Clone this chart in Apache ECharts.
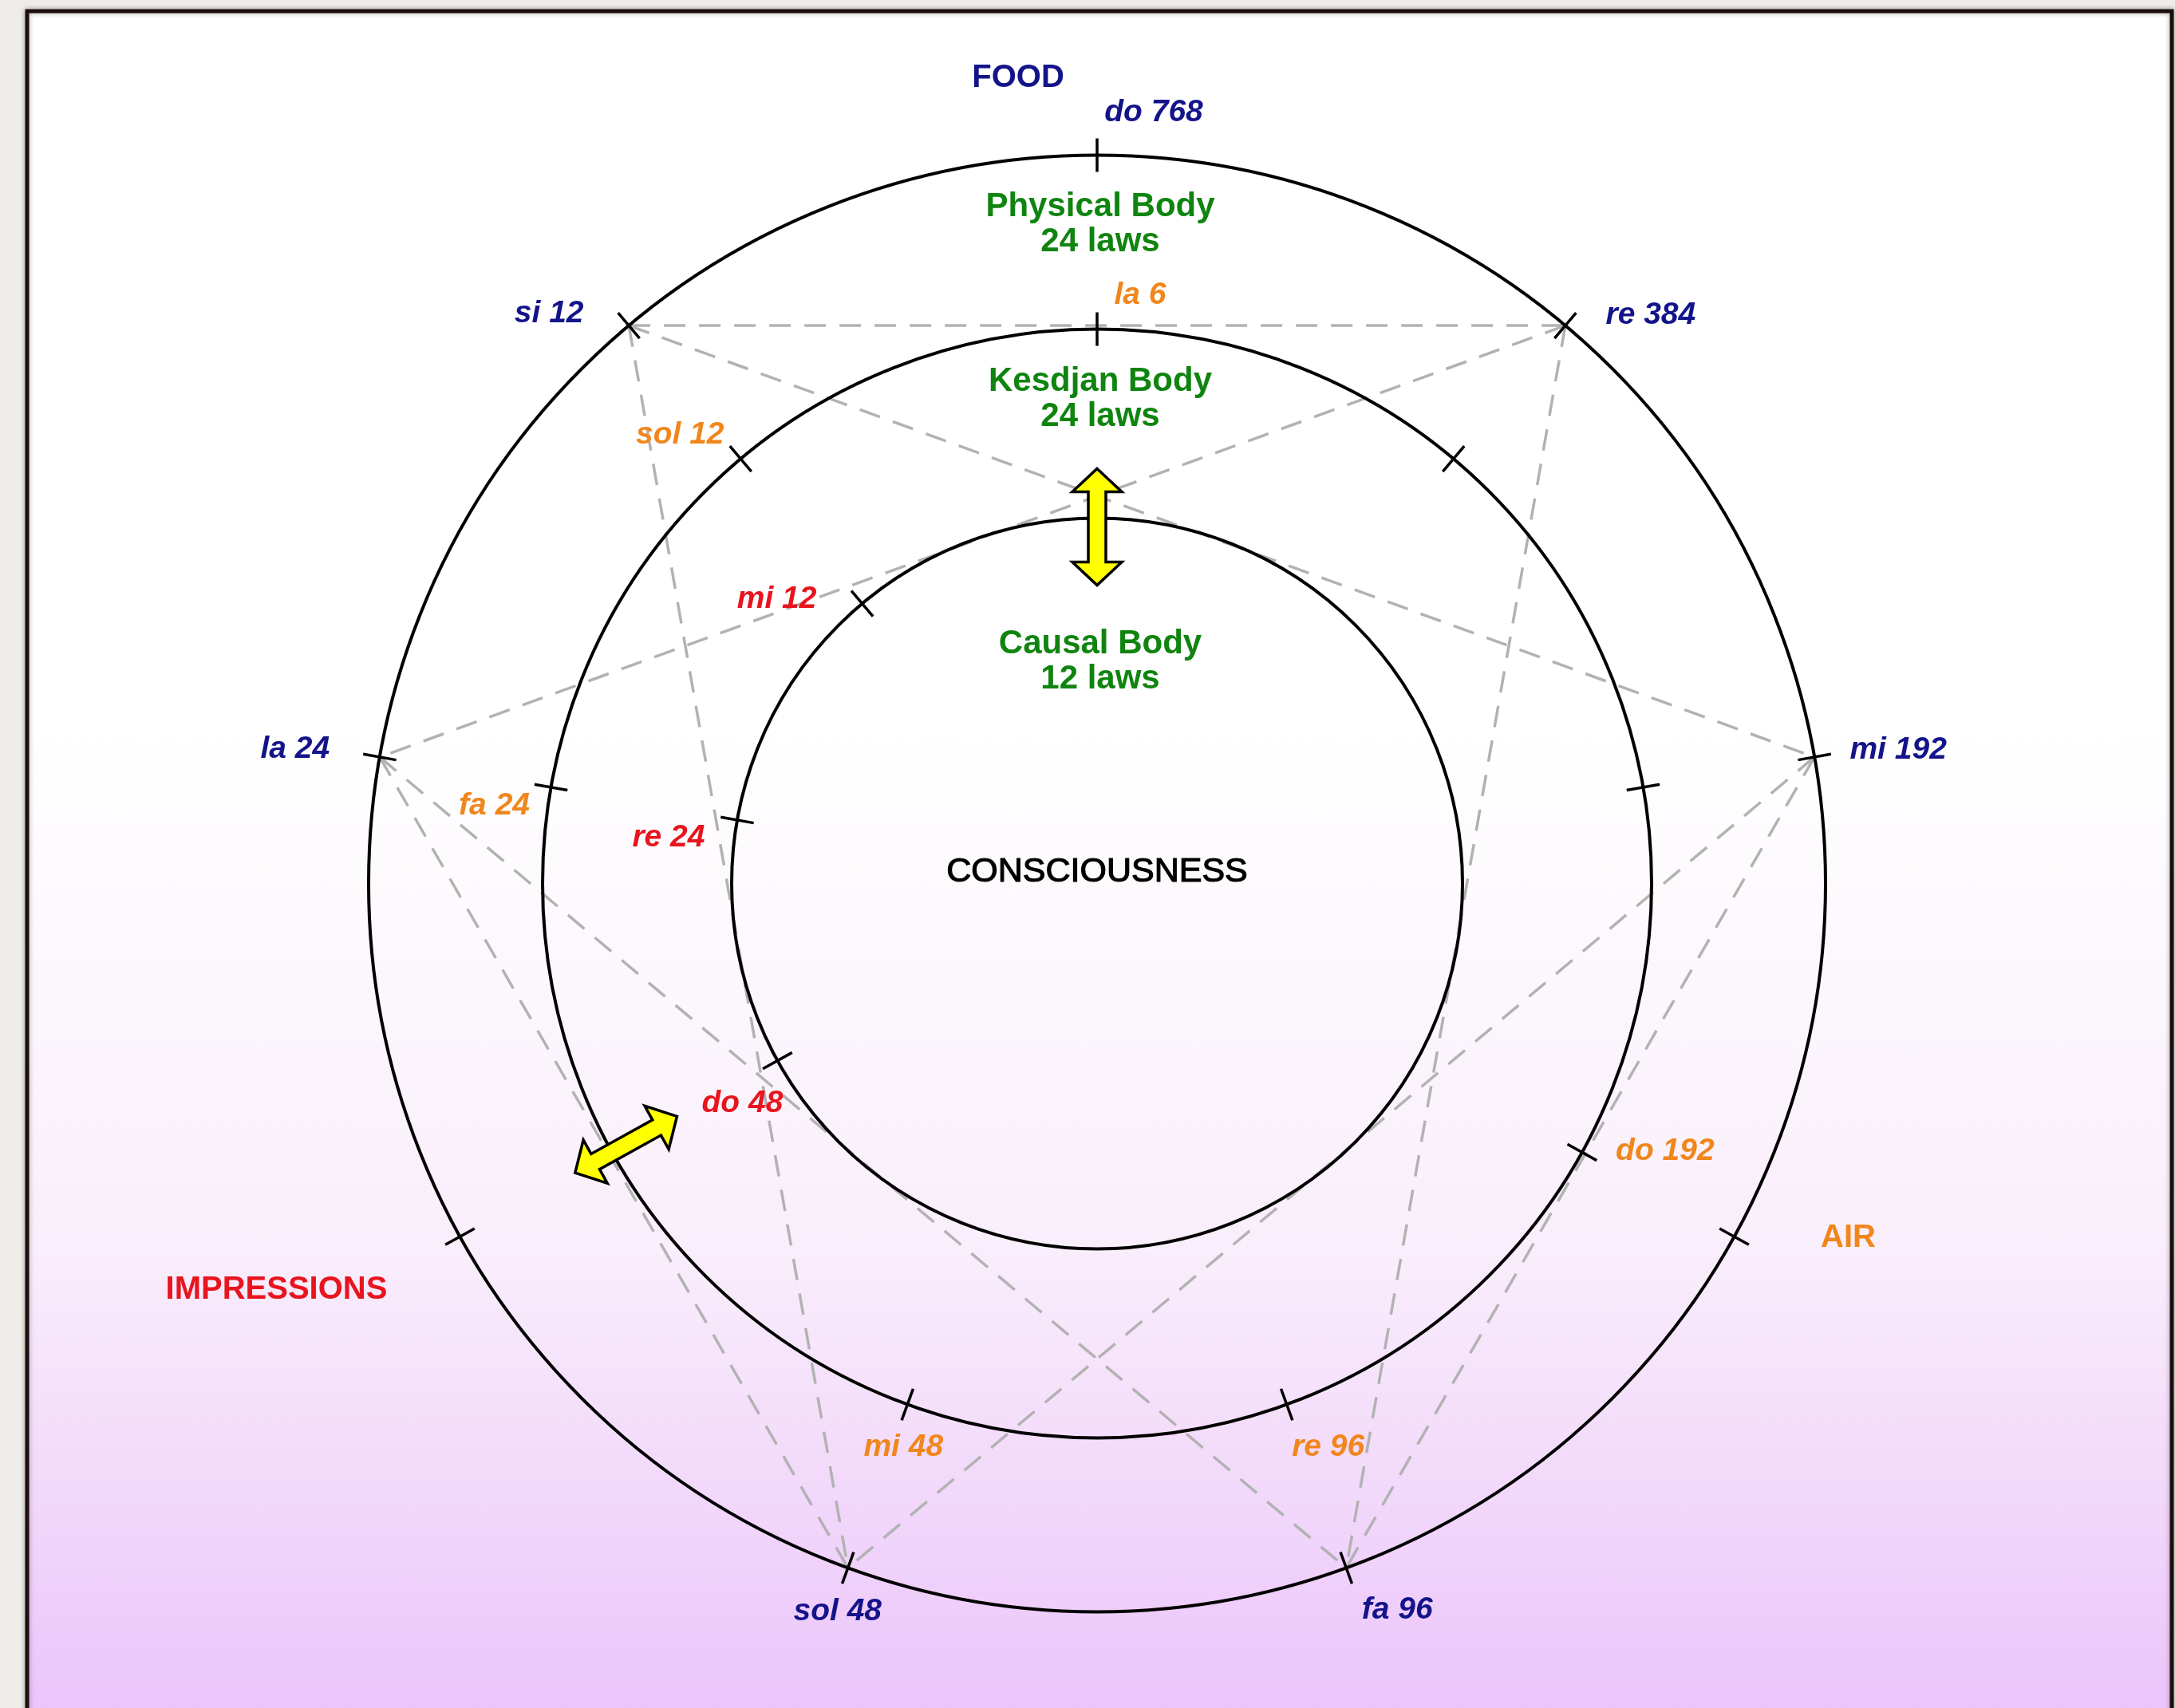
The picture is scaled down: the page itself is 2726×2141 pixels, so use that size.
<!DOCTYPE html>
<html>
<head>
<meta charset="utf-8">
<title>Bodies and laws</title>
<script src="https://cdn.jsdelivr.net/npm/echarts@6/dist/echarts.min.js"></script>
<style>
  html, body { margin: 0; padding: 0; background: #eeede9; }
  #main { width: 2726px; height: 2141px; }
</style>
</head>
<body>
<div id="main"></div>
<script>
// enneagram points, degrees clockwise from the top
var pointAngles = [0, 40, 80, 119, 160, 200, 241, 280, 320];
// physical, kesdjan, causal
var ringRadii = [913, 695, 458];

var outerNotes = ['do 768', 're 384', 'mi 192', '', 'fa 96', 'sol 48', '', 'la 24', 'si 12'];
var middleNotes = ['la 6', '', '', 'do 192', 're 96', 'mi 48', '', 'fa 24', 'sol 12'];
var innerNotes = ['', '', '', '', '', '', 'do 48', 're 24', 'mi 12'];

var outerTicks = [0, 1, 2, 3, 4, 5, 6, 7, 8];
var middleTicks = [0, 1, 2, 3, 4, 5, 7, 8];
var innerTicks = [6, 7, 8];

var bodyNames = ['Physical Body', 'Kesdjan Body', 'Causal Body'];
var bodyLaws = [24, 24, 12];

var foodNames = ['FOOD', 'AIR', 'IMPRESSIONS'];
var foodPoints = [0, 3, 6];

// dashed lines between the points of the outer circle
var chords = [[8, 1], [8, 2], [8, 5], [1, 7], [1, 4], [2, 5], [2, 4], [7, 4], [7, 5]];

// yellow arrows: [ring, point]
var arrows = [[2, 0], [1, 6]];

// ---- layout / style ----
var noteColors = ['#14148a', '#f0861c', '#e8141e'];
var foodColors = ['#14148a', '#f0861c', '#e8141e'];
var noteOffsets = [
  { 0: [71, -53], 1: [107, -13], 2: [105, -9], 4: [64, 53], 5: [-13, 55], 7: [-106, -10], 8: [-100, -15] },
  { 0: [54, -42], 3: [104, -1], 4: [52, 54], 5: [-5, 54], 7: [-71, 23], 8: [-76, -30] },
  { 6: [-44, 54], 7: [-86, 22], 8: [-107, -5] }
];
var foodOffsets = [[-99, -97], [143, 2], [-230, 67]];
var bodyShift = [-87, -88, -180];
var arrowShift = [-11, -20];

var noteFont = 'italic bold 39px "Liberation Sans", Arial, sans-serif';
var headFont = 'bold 40px "Liberation Sans", Arial, sans-serif';
var bodyFont = 'bold 42px "Liberation Sans", Arial, sans-serif';

var noteItems = [];
[outerNotes, middleNotes, innerNotes].forEach(function (notes, ring) {
  notes.forEach(function (txt, p) {
    if (txt) noteItems.push({ ring: ring, point: p, text: txt });
  });
});
var tickItems = [];
[outerTicks, middleTicks, innerTicks].forEach(function (ticks, ring) {
  ticks.forEach(function (p) { tickItems.push([ringRadii[ring], pointAngles[p]]); });
});

function dist(a, b) {
  return Math.sqrt((a[0] - b[0]) * (a[0] - b[0]) + (a[1] - b[1]) * (a[1] - b[1]));
}

var chart = echarts.init(document.getElementById('main'));

var option = {
  backgroundColor: '#eeede9',
  animation: false,
  graphic: [{
    type: 'rect',
    z: -10,
    shape: { x: 34, y: 14, width: 2688, height: 2150 },
    style: {
      fill: new echarts.graphic.LinearGradient(0, 0, 0, 1, [
        { offset: 0, color: '#ffffff' },
        { offset: 0.42, color: '#ffffff' },
        { offset: 0.72, color: '#f9eefb' },
        { offset: 1, color: '#ebc3fa' }
      ]),
      stroke: '#1e0e0e',
      lineWidth: 5,
      shadowBlur: 6,
      shadowColor: 'rgba(0,0,0,0.35)'
    }
  }],
  polar: { center: [1375, 1107.5], radius: 1000 },
  angleAxis: { type: 'value', min: 0, max: 360, startAngle: 90, clockwise: true, show: false },
  radiusAxis: { type: 'value', min: 0, max: 1000, show: false },
  series: [
    // dashed chords
    {
      type: 'custom', coordinateSystem: 'polar', clip: false,
      data: chords.map(function (c) { return [ringRadii[0], pointAngles[c[0]], ringRadii[0], pointAngles[c[1]]]; }),
      renderItem: function (params, api) {
        var a = api.coord([api.value(0), api.value(1)]);
        var b = api.coord([api.value(2), api.value(3)]);
        return {
          type: 'line',
          shape: { x1: a[0], y1: a[1], x2: b[0], y2: b[1] },
          style: { stroke: '#b2b2b2', lineWidth: 3.5, lineDash: [27, 17] }
        };
      }
    },
    // the three circles
    {
      type: 'custom', coordinateSystem: 'polar', clip: false,
      data: ringRadii.map(function (r) { return [r, 0]; }),
      renderItem: function (params, api) {
        var c = api.coord([0, 0]);
        var p = api.coord([api.value(0), api.value(1)]);
        return {
          type: 'circle',
          shape: { cx: c[0], cy: c[1], r: dist(c, p) },
          style: { fill: 'none', stroke: '#000', lineWidth: 4 }
        };
      }
    },
    // ticks
    {
      type: 'custom', coordinateSystem: 'polar', clip: false,
      data: tickItems,
      renderItem: function (params, api) {
        var a = api.coord([api.value(0) - 21, api.value(1)]);
        var b = api.coord([api.value(0) + 21, api.value(1)]);
        return {
          type: 'line',
          shape: { x1: a[0], y1: a[1], x2: b[0], y2: b[1] },
          style: { stroke: '#000', lineWidth: 3.5 }
        };
      }
    },
    // yellow arrows
    {
      type: 'custom', coordinateSystem: 'polar', clip: false,
      data: arrows.map(function (ar, i) { return [ringRadii[ar[0]] + arrowShift[i], pointAngles[ar[1]]]; }),
      renderItem: function (params, api) {
        var r = api.value(0), ang = api.value(1);
        var p1 = api.coord([r - 73, ang]);
        var p2 = api.coord([r + 73, ang]);
        var len = dist(p1, p2);
        var ux = (p2[0] - p1[0]) / len, uy = (p2[1] - p1[1]) / len;
        var vx = -uy, vy = ux;
        var h = len / 2, mx = (p1[0] + p2[0]) / 2, my = (p1[1] + p2[1]) / 2;
        var hl = 29, hw = 31, sw = 11;
        var local = [
          [h, 0], [h - hl, hw], [h - hl, sw], [-h + hl, sw], [-h + hl, hw],
          [-h, 0], [-h + hl, -hw], [-h + hl, -sw], [h - hl, -sw], [h - hl, -hw]
        ];
        var pts = local.map(function (s) {
          return [mx + ux * s[0] + vx * s[1], my + uy * s[0] + vy * s[1]];
        });
        return {
          type: 'polygon',
          shape: { points: pts },
          style: { fill: '#ffff00', stroke: '#000', lineWidth: 3.5, lineJoin: 'miter' }
        };
      }
    },
    // note labels
    {
      type: 'custom', coordinateSystem: 'polar', clip: false,
      data: noteItems.map(function (it) { return [ringRadii[it.ring], pointAngles[it.point]]; }),
      renderItem: function (params, api) {
        var it = noteItems[params.dataIndex];
        var p = api.coord([api.value(0), api.value(1)]);
        var off = noteOffsets[it.ring][it.point];
        return {
          type: 'text',
          style: {
            text: it.text, x: p[0] + off[0], y: p[1] + off[1],
            fill: noteColors[it.ring], font: noteFont, align: 'center', verticalAlign: 'middle'
          }
        };
      }
    },
    // FOOD / AIR / IMPRESSIONS
    {
      type: 'custom', coordinateSystem: 'polar', clip: false,
      data: foodPoints.map(function (p) { return [ringRadii[0], pointAngles[p]]; }),
      renderItem: function (params, api) {
        var i = params.dataIndex;
        var p = api.coord([api.value(0), api.value(1)]);
        return {
          type: 'text',
          style: {
            text: foodNames[i], x: p[0] + foodOffsets[i][0], y: p[1] + foodOffsets[i][1],
            fill: foodColors[i], font: headFont, align: 'center', verticalAlign: 'middle'
          }
        };
      }
    },
    // body names
    {
      type: 'custom', coordinateSystem: 'polar', clip: false,
      data: ringRadii.map(function (r, i) { return [r + bodyShift[i], 0]; }),
      renderItem: function (params, api) {
        var i = params.dataIndex;
        var p = api.coord([api.value(0), api.value(1)]);
        return {
          type: 'text',
          style: {
            text: bodyNames[i] + '\n' + bodyLaws[i] + ' laws', x: p[0] + 4, y: p[1],
            fill: '#0f840f', font: bodyFont, lineHeight: 44,
            align: 'center', verticalAlign: 'middle'
          }
        };
      }
    },
    // centre
    {
      type: 'custom', coordinateSystem: 'polar', clip: false,
      data: [[14, 0]],
      renderItem: function (params, api) {
        var p = api.coord([api.value(0), api.value(1)]);
        return {
          type: 'text',
          style: {
            text: 'CONSCIOUSNESS', x: p[0], y: p[1],
            fill: '#000', stroke: '#000', lineWidth: 1.2,
            font: '43px "Liberation Sans", Arial, sans-serif',
            align: 'center', verticalAlign: 'middle'
          }
        };
      }
    }
  ]
};

chart.setOption(option);
</script>
</body>
</html>
